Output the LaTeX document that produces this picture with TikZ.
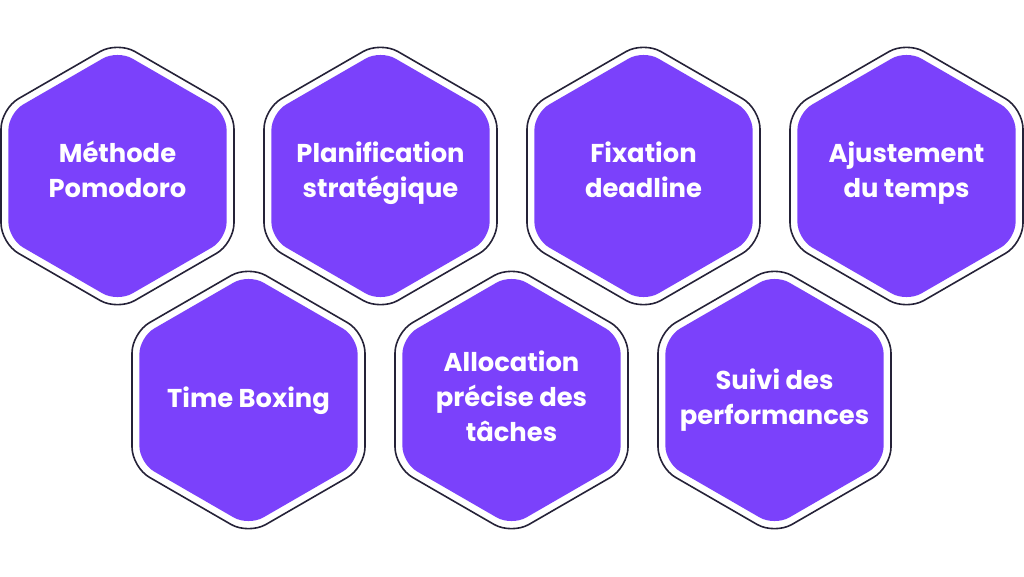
\documentclass[tikz,border=0pt]{standalone}
\usepackage{fontspec}
\setmainfont{Poppins}
\definecolor{hexpurple}{HTML}{7B41FB}
\definecolor{hexline}{HTML}{252238}
\newcommand{\hexcell}[5]{%
  \begin{scope}[shift={(#1,#2)}]
  \draw[hexouter] (90:134.5) -- (30:134.5) -- (-30:134.5) -- (-90:134.5) -- (-150:134.5) -- (150:134.5) -- cycle;
  \fill[hexinner] (90:126) -- (30:126) -- (-30:126) -- (-90:126) -- (-150:126) -- (150:126) -- cycle;
  \node[hextext] (#4) at (0,#3) {#5};
  \end{scope}}
\begin{document}
\begin{tikzpicture}[x=1pt,y=-1pt,
  hexouter/.style={draw=hexline, line width=1.6pt, fill=white, rounded corners=20pt},
  hexinner/.style={fill=hexpurple, rounded corners=17pt},
  hextext/.style={text=white, font=\bfseries\fontsize{25.8}{35}\selectfont, align=center, inner sep=0pt}]
\useasboundingbox (0,0) rectangle (1024,576);
\fill[white] (0,0) rectangle (1024,576);
\hexcell{117.5}{176}{-3.5}{pomodoro}{\strut Méthode\\\strut Pomodoro}
\hexcell{380.5}{176}{-3.5}{planif}{\strut Planification\\\strut stratégique}
\hexcell{643.5}{176}{-3.5}{deadline}{\strut Fixation\\\strut deadline}
\hexcell{906.5}{176}{-3.5}{ajust}{\strut Ajustement\\\strut du temps}
\hexcell{248.5}{400}{0}{boxing}{\strut Time Boxing}
\hexcell{511.5}{400}{-1}{alloc}{\strut Allocation\\\strut précise des\\\strut tâches}
\hexcell{774.5}{400}{-0.5}{suivi}{\strut Suivi des\\\strut performances}
\end{tikzpicture}
\end{document}
